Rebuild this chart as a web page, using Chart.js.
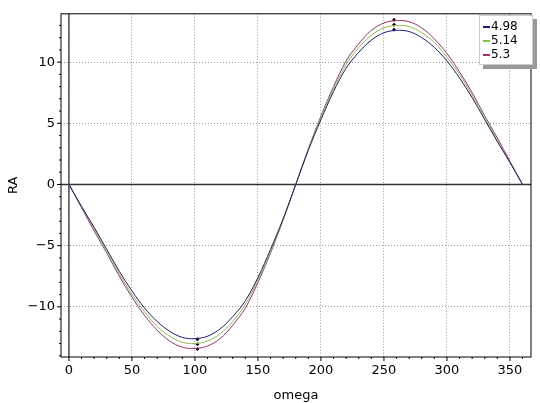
<!DOCTYPE html><html><head><script src="https://cdn.jsdelivr.net/npm/chart.js@4"></script>
<style>body{margin:0;background:#fff}#w{position:relative;width:540px;height:403px}
#lg{position:absolute;left:479px;top:15px;width:46px;background:#fff;border:1px solid #ccc;box-shadow:4px 4px 0 #999;font:12px "DejaVu Sans";padding:3px 3px;line-height:14px}
#lg i{display:inline-block;width:7px;height:2px;vertical-align:middle;margin-right:1px}</style></head><body>
<div id="w"><canvas id="c" width="540" height="403"></canvas>
<div id="lg"><div><i style="background:#1a1a80"></i>4.98</div><div><i style="background:#8cbf4a"></i>5.14</div><div><i style="background:#a0306e"></i>5.3</div></div></div>
<script>
const omega=[0,10,20,30,40,50,60,70,80,90,100,110,120,130,140,150,160,170,180,190,200,210,220,230,240,250,260,270,280,290,300,310,320,330,340,350,360];
const ra498=[0,-1.8,-3.5,-5.3,-7.1,-8.7,-10.1,-11.2,-12.0,-12.5,-12.6,-12.4,-11.8,-10.8,-9.5,-7.6,-5.3,-2.8,0,2.8,5.3,7.6,9.5,10.8,11.8,12.4,12.6,12.5,12.0,11.2,10.1,8.7,7.1,5.3,3.5,1.8,0];
const ra514=[0,-1.8,-3.6,-5.5,-7.3,-9.0,-10.4,-11.6,-12.4,-12.9,-13.0,-12.8,-12.2,-11.2,-9.8,-7.8,-5.5,-2.9,0,2.9,5.5,7.8,9.8,11.2,12.2,12.8,13.0,12.9,12.4,11.6,10.4,9.0,7.3,5.5,3.6,1.8,0];
const ra530=[0,-1.9,-3.8,-5.6,-7.5,-9.2,-10.7,-11.9,-12.8,-13.3,-13.4,-13.2,-12.6,-11.5,-10.1,-8.0,-5.6,-2.9,0,2.9,5.6,8.0,10.1,11.5,12.6,13.2,13.4,13.3,12.8,11.9,10.7,9.2,7.5,5.6,3.8,1.9,0];
const extremaX=[102,102,102,258,258,258];
const extremaY=[-12.65,-13.05,-13.45,12.65,13.05,13.45];
const xTicks=[0,50,100,150,200,250,300,350];
const yTicks=[-10,-5,0,5,10];
const pts=(xs,ys)=>xs.map((x,i)=>({x,y:ys[i]}));
const line=(d,c)=>({data:pts(omega,d),borderColor:c,borderWidth:1,pointRadius:0,tension:0.35,fill:false});
const extra={id:'extra',beforeDatasetsDraw(ch){const{ctx,scales:{x,y},chartArea:a}=ch;ctx.save();ctx.strokeStyle='#333';ctx.lineWidth=1.3;
ctx.beginPath();ctx.moveTo(a.left,y.getPixelForValue(0));ctx.lineTo(a.right,y.getPixelForValue(0));ctx.moveTo(x.getPixelForValue(0),a.top);ctx.lineTo(x.getPixelForValue(0),a.bottom);ctx.stroke();ctx.restore();},
afterDraw(ch){const{ctx,scales:{x,y},chartArea:a}=ch;ctx.save();ctx.strokeStyle='#000';ctx.lineWidth=1;ctx.beginPath();
for(let v=0;v<=360;v+=10){const p=x.getPixelForValue(v);ctx.moveTo(p,a.bottom);ctx.lineTo(p,a.bottom+(v%50?2:4));}
for(let v=-14;v<=13;v++){const p=y.getPixelForValue(v);ctx.moveTo(a.left,p);ctx.lineTo(a.left-(v%5?2:4),p);}
ctx.stroke();ctx.strokeRect(a.left,a.top,a.right-a.left,a.bottom-a.top);ctx.restore();}};
const F={family:'DejaVu Sans',size:13};
new Chart(document.getElementById('c'),{type:'line',data:{datasets:[line(ra498,'#1a1a80'),line(ra514,'#8cbf4a'),line(ra530,'#a0306e'),
{type:'scatter',data:pts(extremaX,extremaY),pointRadius:1.2,pointBackgroundColor:'#000',borderColor:'#000'}]},
options:{responsive:false,animation:false,layout:{padding:{top:9,right:9,left:6,bottom:0}},plugins:{legend:{display:false},tooltip:{enabled:false}},
scales:{x:{type:'linear',min:-6.3,max:366.7,afterBuildTicks:s=>{s.ticks=xTicks.map(v=>({value:v}))},grid:{color:'#999',drawTicks:false},border:{display:false,dash:[1,2]},
ticks:{color:'#000',font:F,padding:6,maxRotation:0},title:{display:true,text:'omega',color:'#000',font:F,padding:0},afterFit:s=>{s.height=46}},
y:{min:-14.1,max:13.95,afterBuildTicks:s=>{s.ticks=yTicks.map(v=>({value:v}))},grid:{color:'#999',drawTicks:false},border:{display:false,dash:[1,2]},
ticks:{color:'#000',font:F,padding:6,callback:v=>v<0?'\u2212'+(-v):v},title:{display:true,text:'RA',color:'#000',font:F,padding:0},afterFit:s=>{s.width=55}}}},plugins:[extra]});
</script></body></html>
